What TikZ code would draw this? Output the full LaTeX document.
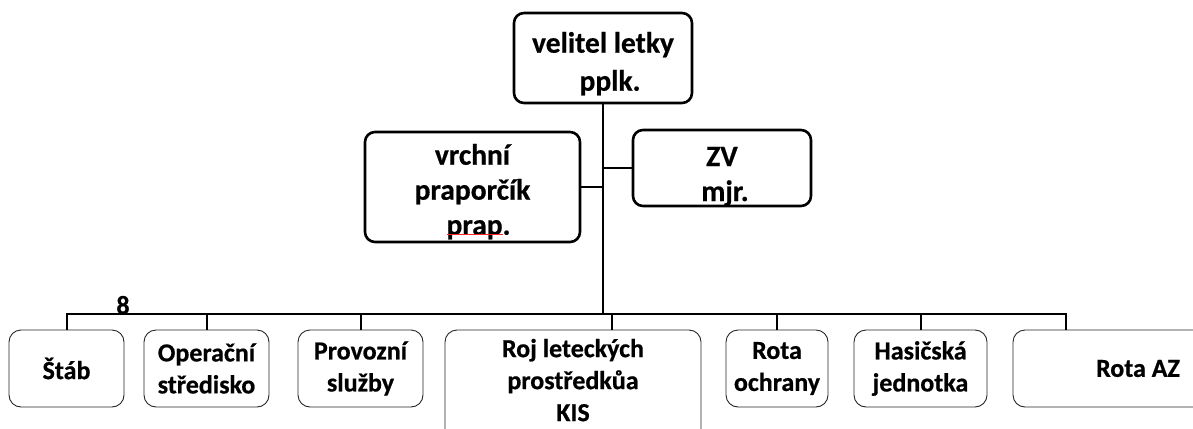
\documentclass[tikz,border=0pt]{standalone}
\usepackage{fontspec}
\setmainfont{Carlito}[FakeBold=0.6]
\begin{document}
\begin{tikzpicture}[x=1pt,y=-1pt,
  topbox/.style={draw=black,line width=2.6pt,rounded corners=10pt,align=center,inner sep=0pt,font=\bfseries\fontsize{29.5}{38}\selectfont},
  unitbox/.style={draw=black!85,line width=0.9pt,rounded corners=12pt,align=center,inner sep=0pt,minimum height=77pt,font=\bfseries\fontsize{26}{32}\selectfont},
  link/.style={line width=2.6pt,draw=black}]
\useasboundingbox (0,0) rectangle (1193,428);
\node[topbox,minimum width=178pt,minimum height=90pt] (top) at (603,58) {\rule{0pt}{32pt}velitel letky\\\hspace*{14pt}pplk.};
\node[topbox,minimum width=215pt,minimum height=110pt,font=\bfseries\fontsize{29.5}{35}\selectfont] (vr) at (472.5,187) {\rule{0pt}{30pt}vrchní\\praporčík\\\hspace*{12pt}prap.};
\node[topbox,minimum width=178pt,minimum height=70pt,font=\bfseries\fontsize{29.5}{35}\selectfont] (zv) at (722,168) {\rule{0pt}{36pt}ZV\\\hspace*{6pt}mjr.};
\node[unitbox,minimum width=115pt] (stab) at (66.5,368.5) {Štáb};
\node[unitbox,minimum width=125pt] (op) at (206.5,368.5) {Operační\\středisko};
\node[unitbox,minimum width=125pt] (prov) at (360.5,368.5) {Provozní\\služby};
\node[unitbox,minimum width=256pt,minimum height=112pt,font=\bfseries\fontsize{26}{32}\selectfont] (roj) at (573,386) {Roj leteckých\\prostředkůa\\KIS\rule[-12pt]{0pt}{0pt}};
\node[unitbox,minimum width=102pt] (och) at (777,368.5) {Rota\\ochrany};
\node[unitbox,minimum width=133pt] (has) at (920.5,368.5) {Hasičská\\jednotka};
\node[unitbox,minimum width=250pt] (az) at (1138,368.5) {Rota AZ};
\node[font=\bfseries\fontsize{26}{30}\selectfont,inner sep=0pt] (eight) at (123,305) {8};
\coordinate (b1) at (67,314);
\coordinate (b2) at (207,314);
\coordinate (b3) at (361,314);
\coordinate (bc) at (603,314);
\coordinate (b4) at (612,314);
\coordinate (b5) at (777,314);
\coordinate (b6) at (921,314);
\coordinate (b7) at (1066,314);
\draw[link] (top.south) -- (bc);
\draw[link] (vr.east) -- (vr.east -| top.south);
\draw[link] (zv.west) -- (zv.west -| top.south);
\draw[link] (b1 |- stab.north) -- (b1) -- (b7) -- (b7 |- az.north);
\draw[link] (b2) -- (b2 |- op.north);
\draw[link] (b3) -- (b3 |- prov.north);
\draw[link] (b4) -- (b4 |- roj.north);
\draw[link] (b5) -- (b5 |- och.north);
\draw[link] (b6) -- (b6 |- has.north);
\draw[red!85,line width=0.8pt] (447,234) -- (503,234);
\end{tikzpicture}
\end{document}
